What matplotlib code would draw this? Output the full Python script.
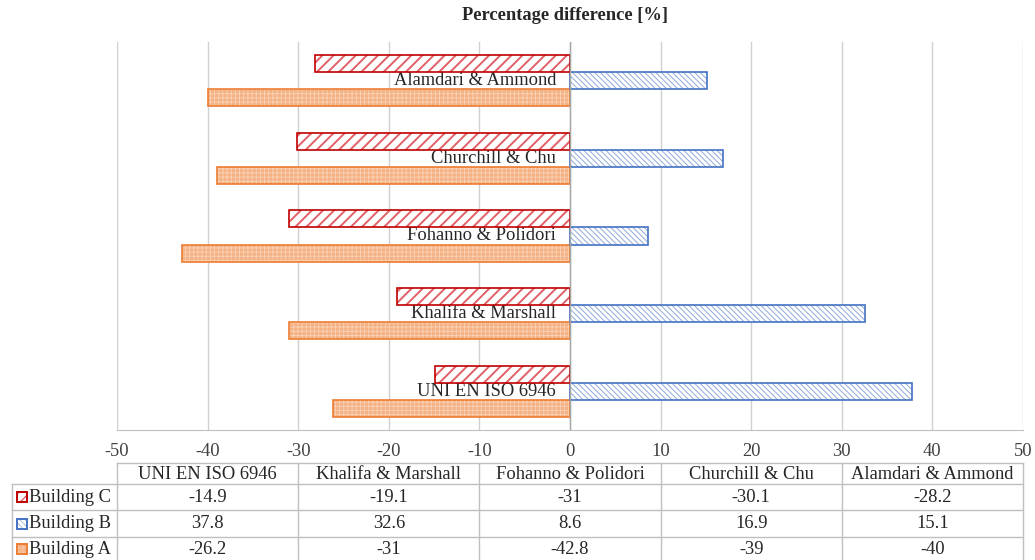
import matplotlib
matplotlib.use("Agg")
import matplotlib.pyplot as plt
import matplotlib.transforms as mtransforms
from matplotlib.patches import Rectangle
from matplotlib.lines import Line2D

plt.rcParams['font.family'] = ['Liberation Serif', 'DejaVu Serif']

categories = ['UNI EN ISO 6946', 'Khalifa & Marshall', 'Fohanno & Polidori',
              'Churchill & Chu', 'Alamdari & Ammond']
building_c = [-14.9, -19.1, -31, -30.1, -28.2]
building_b = [37.8, 32.6, 8.6, 16.9, 15.1]
building_a = [-26.2, -31, -42.8, -39, -40]
xticks = [-50, -40, -30, -20, -10, 0, 10, 20, 30, 40, 50]
title = 'Percentage difference [%]'

FS = 13.3

W, H = 1035, 560
fig = plt.figure(figsize=(W / 100, H / 100), dpi=100)
ax_l, ax_r, ax_t, ax_b = 117, 1023, 42, 430
ax = fig.add_axes([ax_l / W, 1 - ax_b / H, (ax_r - ax_l) / W, (ax_b - ax_t) / H])

styles = {
    'A': dict(face='#F4B183', hatch='++++', hcolor='#F9D2B6', edge='#ED7D31', hlw=0.6),
    'B': dict(face='white', hatch='\\\\\\\\\\\\', hcolor='#8EA9DB', edge='#4472C4', hlw=0.7),
    'C': dict(face='white', hatch='///', hcolor='#E06068', edge='#C00000', hlw=1.4),
}

h = 0.22
ys = list(range(len(categories)))


def draw_bars(vals, offset, st):
    y = [v + offset for v in ys]
    plt.rcParams['hatch.linewidth'] = st['hlw']
    ax.barh(y, vals, height=h, color=st['face'], hatch=st['hatch'],
            edgecolor=st['hcolor'], linewidth=0, zorder=2)
    ax.barh(y, vals, height=h, fill=False, edgecolor=st['edge'],
            linewidth=1.2, zorder=3)


draw_bars(building_a, -h, styles['A'])
draw_bars(building_b, 0, styles['B'])
draw_bars(building_c, h, styles['C'])

ax.set_xlim(-50, 50)
ax.set_ylim(-0.5, len(categories) - 0.5)
ax.set_xticks(xticks)
ax.set_xticklabels([str(t) for t in xticks], fontsize=FS)
ax.tick_params(axis='x', length=0, pad=9, colors='#404040')
ax.set_yticks([])
for s in ['left', 'right', 'top']:
    ax.spines[s].set_visible(False)
ax.spines['bottom'].set_color('#BFBFBF')
ax.grid(axis='x', color='#D0D0D0', linewidth=1.0, zorder=0)
ax.set_axisbelow(True)
ax.axvline(0, color='#A6A6A6', linewidth=1.0, zorder=4)

for y, c in zip(ys, categories):
    ax.annotate(c, xy=(0, y), xytext=(-10, 0), textcoords='offset points',
                ha='right', va='center', fontsize=FS, color='#262626', zorder=1.5,
                bbox=dict(facecolor='white', edgecolor='none', pad=0.3))

fig.text(565 / W, 1 - 16 / H, title, ha='center', va='center',
         fontsize=FS, fontweight='bold', color='#262626')

# data table below the axis
trans = mtransforms.blended_transform_factory(ax.transData, fig.transFigure)
fy = lambda p: 1 - p / H
fx = lambda p: p / W
rows_y = [463, 484, 510, 537, 561]
line_kw = dict(color='#BFBFBF', linewidth=1.0)
col_bounds = [-50, -30, -10, 10, 30, 50]

fig.add_artist(Line2D([-50, 50], [fy(rows_y[0])] * 2, transform=trans, **line_kw))
for ry in rows_y[1:]:
    fig.add_artist(Line2D([fx(12), fx(ax_r)], [fy(ry)] * 2, transform=fig.transFigure, **line_kw))
for cb in col_bounds:
    fig.add_artist(Line2D([cb, cb], [fy(rows_y[0]), fy(rows_y[-1])], transform=trans, **line_kw))
fig.add_artist(Line2D([fx(12), fx(12)], [fy(rows_y[1]), fy(rows_y[-1])],
                      transform=fig.transFigure, **line_kw))

centers = [-40, -20, 0, 20, 40]
hy = (rows_y[0] + rows_y[1]) / 2 + 1
for cx, c in zip(centers, categories):
    fig.text(cx, fy(hy), c, transform=trans, ha='center', va='center',
             fontsize=FS, color='#262626')

row_data = [('Building C', building_c, styles['C']),
            ('Building B', building_b, styles['B']),
            ('Building A', building_a, styles['A'])]
for i, (name, vals, st) in enumerate(row_data):
    cy = (rows_y[i + 1] + rows_y[i + 2]) / 2
    plt.rcParams['hatch.linewidth'] = st['hlw'] * 0.7
    sq = 10
    r1 = Rectangle((fx(17), fy(cy + sq / 2)), sq / W, sq / H, transform=fig.transFigure,
                   facecolor=st['face'], hatch=st['hatch'], edgecolor=st['hcolor'], linewidth=0)
    r2 = Rectangle((fx(17), fy(cy + sq / 2)), sq / W, sq / H, transform=fig.transFigure,
                   fill=False, edgecolor=st['edge'], linewidth=1.4)
    fig.add_artist(r1)
    fig.add_artist(r2)
    fig.text(fx(29), fy(cy), name, ha='left', va='center', fontsize=FS, color='#262626')
    for cx, v in zip(centers, vals):
        fig.text(cx, fy(cy), f'{v:g}', transform=trans, ha='center', va='center',
                 fontsize=FS, color='#262626')

fig.savefig('out.png', dpi=100)
